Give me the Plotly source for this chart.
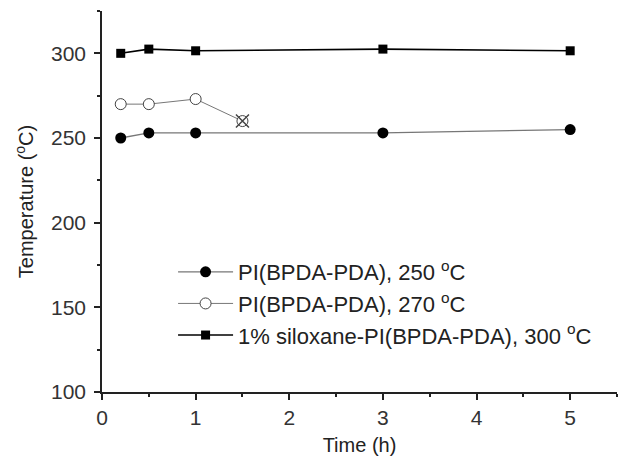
import plotly.graph_objects as go

# Data
time_250 = [0.2, 0.5, 1, 3, 5]
temp_250 = [250, 253, 253, 253, 255]

time_270 = [0.2, 0.5, 1, 1.5]
temp_270 = [270, 270, 273, 260]

time_300 = [0.2, 0.5, 1, 3, 5]
temp_300 = [300, 302.5, 301.5, 302.5, 301.5]

fail_time = [1.5]
fail_temp = [260]

name_250 = "PI(BPDA-PDA), 250 <sup>o</sup>C"
name_270 = "PI(BPDA-PDA), 270 <sup>o</sup>C"
name_300 = "1% siloxane-PI(BPDA-PDA), 300 <sup>o</sup>C"

FONT = "Liberation Sans, Arial, sans-serif"

fig = go.Figure()
fig.add_trace(go.Scatter(
    x=time_250, y=temp_250, mode="lines+markers", name=name_250,
    line=dict(color="#777777", width=1.3),
    marker=dict(symbol="circle", size=11, color="black"),
))
fig.add_trace(go.Scatter(
    x=time_270, y=temp_270, mode="lines+markers", name=name_270,
    line=dict(color="#777777", width=1),
    marker=dict(symbol="circle", size=11, color="white", line=dict(color="#444444", width=1)),
))
fig.add_trace(go.Scatter(
    x=time_300, y=temp_300, mode="lines+markers", name=name_300,
    line=dict(color="black", width=1.6),
    marker=dict(symbol="square", size=9, color="black"),
))
fig.add_trace(go.Scatter(
    x=fail_time, y=fail_temp, mode="markers", showlegend=False,
    marker=dict(symbol="x-thin", size=13, line=dict(color="#444444", width=1.5)),
))

fig.update_layout(
    width=629, height=465,
    margin=dict(l=102, r=12, t=11, b=73),
    paper_bgcolor="white", plot_bgcolor="white",
    font=dict(family=FONT, size=20, color="#222222"),
    showlegend=True,
    legend=dict(
        x=0.138, y=0.37, xanchor="left", yanchor="top",
        bgcolor="rgba(0,0,0,0)", font=dict(size=22, color="#222222"),
        tracegroupgap=0, itemwidth=55,
    ),
    xaxis=dict(
        range=[0, 5.5], dtick=1, tick0=0,
        showline=True, linecolor="#222222", linewidth=1.5,
        ticks="outside", ticklen=6, tickwidth=1.5, tickcolor="#222222",
        minor=dict(dtick=0.5, ticks="outside", ticklen=3, tickwidth=1.5, tickcolor="#222222"),
        showgrid=False, zeroline=False,
        tickfont=dict(size=21, color="#333333"),
        title=dict(text="Time (h)", font=dict(size=20, color="#222222"), standoff=10),
    ),
    yaxis=dict(
        range=[100, 325], dtick=50, tick0=100,
        showline=True, linecolor="#222222", linewidth=1.5,
        ticks="outside", ticklen=6, tickwidth=1.5, tickcolor="#222222",
        minor=dict(dtick=25, ticks="outside", ticklen=3, tickwidth=1.5, tickcolor="#222222"),
        showgrid=False, zeroline=False, ticklabelstandoff=4,
        tickfont=dict(size=21, color="#333333"),
        title=dict(text="Temperature (<sup>o</sup>C)", font=dict(size=20, color="#222222"), standoff=12),
    ),
)

fig.write_html("out.html", config={"displayModeBar": False},
               post_script="document.body.style.margin='0';")
